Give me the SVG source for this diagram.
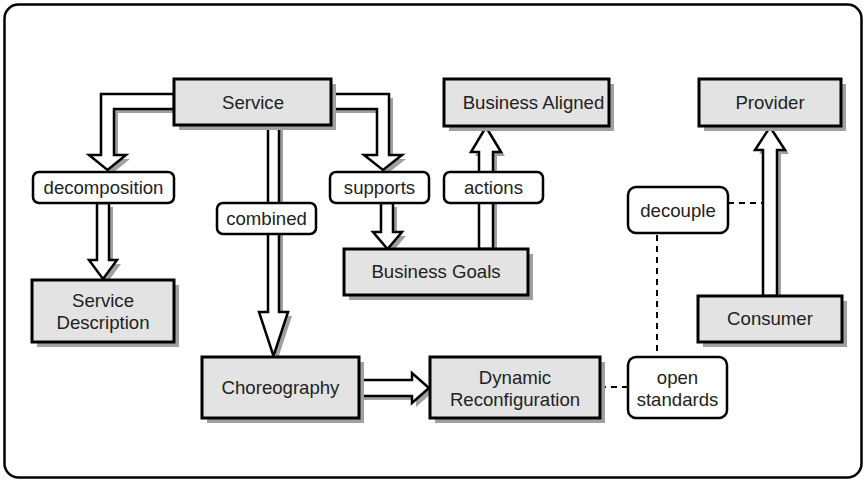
<svg xmlns="http://www.w3.org/2000/svg" width="866" height="480" viewBox="0 0 866 480">
  <style>
    .frame { fill: #ffffff; stroke: #000000; stroke-width: 2.5; }
    .box { fill: #e3e3e3; stroke: #000000; stroke-width: 3; }
    .shadow { fill: #a0a0a0; stroke: none; }
    .label { fill: #ffffff; stroke: #000000; stroke-width: 2.5; }
    .arrow { fill: #ffffff; stroke: #000000; stroke-width: 2.5; stroke-linejoin: miter; }
    .dash { fill: none; stroke: #000000; stroke-width: 2; stroke-dasharray: 6 5; }
    text { font-family: "Liberation Sans", Arial, sans-serif; font-size: 18.6px; fill: #222222; text-anchor: middle; }
  </style>
  <defs>
    <!-- hollow block arrows, reused for the drop shadow and the outline -->
    <path id="a-decomp" d="M174,94 L101,94 L101,155 L89,155 L107.5,170 L126,155 L114,155 L114,109 L174,109 Z"/>
    <path id="a-descr" d="M97,203 L97,260 L89,260 L103,279 L117,260 L109,260 L109,203 Z"/>
    <path id="a-combined" d="M268,125 L268,312 L259,312 L273.5,356 L288,312 L279,312 L279,125 Z"/>
    <path id="a-supports" d="M331,94 L389,94 L389,155 L402,155 L383,170 L364,155 L377,155 L377,109 L331,109 Z"/>
    <path id="a-goals" d="M381,203 L381,232 L373,232 L387.5,249 L402,232 L393,232 L393,203 Z"/>
    <path id="a-actions" d="M479,249 L479,152 L471,152 L486,127 L501,152 L493,152 L493,249 Z"/>
    <path id="a-choreo" d="M359,380 L412,380 L412,373 L429,388 L412,403 L412,396 L359,396 Z"/>
    <path id="a-consumer" d="M763,296 L763,150 L755,150 L770,127 L785,150 L777,150 L777,296 Z"/>
  </defs>

  <rect class="frame" x="4.5" y="4.5" width="857" height="473" rx="14"/>

  <g id="connectors">
    <g transform="translate(4,4)" class="shadow">
      <use href="#a-decomp"/>
      <use href="#a-descr"/>
      <use href="#a-combined"/>
      <use href="#a-supports"/>
      <use href="#a-goals"/>
      <use href="#a-actions"/>
      <use href="#a-choreo"/>
      <use href="#a-consumer"/>
    </g>
    <g class="arrow">
      <use href="#a-decomp"/>
      <use href="#a-descr"/>
      <use href="#a-combined"/>
      <use href="#a-supports"/>
      <use href="#a-goals"/>
      <use href="#a-actions"/>
      <use href="#a-choreo"/>
      <use href="#a-consumer"/>
    </g>
    <path class="dash" d="M600,387 L628,387"/>
    <path class="dash" d="M657,235 L657,357"/>
    <path class="dash" d="M728,203 L763,203"/>
  </g>

  <g id="service">
    <rect class="shadow" x="179" y="84" width="157" height="46"/>
    <rect class="box" x="174" y="79" width="157" height="46"/>
    <text x="253" y="109">Service</text>
  </g>
  <g id="business-aligned">
    <rect class="shadow" x="449" y="84" width="165" height="47"/>
    <rect class="box" x="444" y="79" width="165" height="47"/>
    <text x="533.5" y="109">Business Aligned</text>
  </g>
  <g id="provider">
    <rect class="shadow" x="704" y="84" width="142" height="47"/>
    <rect class="box" x="699" y="79" width="142" height="47"/>
    <text x="770" y="109">Provider</text>
  </g>
  <g id="decomposition">
    <rect class="label" x="33" y="172" width="141" height="31" rx="6"/>
    <text x="103.5" y="194">decomposition</text>
  </g>
  <g id="combined">
    <rect class="label" x="217" y="203" width="99" height="31" rx="6"/>
    <text x="266.5" y="225">combined</text>
  </g>
  <g id="supports">
    <rect class="label" x="330" y="172" width="99" height="31" rx="6"/>
    <text x="379.5" y="194">supports</text>
  </g>
  <g id="actions">
    <rect class="label" x="444" y="172" width="99" height="31" rx="6"/>
    <text x="493.5" y="194">actions</text>
  </g>
  <g id="decouple">
    <rect class="label" x="628" y="187" width="100" height="46" rx="8"/>
    <text x="678" y="217">decouple</text>
  </g>
  <g id="business-goals">
    <rect class="shadow" x="349" y="254" width="184" height="46"/>
    <rect class="box" x="344" y="249" width="184" height="46"/>
    <text x="436" y="278">Business Goals</text>
  </g>
  <g id="service-description">
    <rect class="shadow" x="37" y="285" width="142" height="62"/>
    <rect class="box" x="32" y="280" width="142" height="62"/>
    <text x="103" y="307">Service</text>
    <text x="103" y="329">Description</text>
  </g>
  <g id="consumer">
    <rect class="shadow" x="703" y="301" width="144" height="46"/>
    <rect class="box" x="698" y="296" width="144" height="46"/>
    <text x="770" y="325">Consumer</text>
  </g>
  <g id="choreography">
    <rect class="shadow" x="207" y="362" width="157" height="61"/>
    <rect class="box" x="202" y="357" width="157" height="61"/>
    <text x="280.5" y="394">Choreography</text>
  </g>
  <g id="dynamic-reconfiguration">
    <rect class="shadow" x="435" y="362" width="170" height="61"/>
    <rect class="box" x="430" y="357" width="170" height="61"/>
    <text x="515" y="384">Dynamic</text>
    <text x="515" y="406">Reconfiguration</text>
  </g>
  <g id="open-standards">
    <rect class="label" x="628" y="357" width="99" height="61" rx="8"/>
    <text x="677.5" y="384">open</text>
    <text x="677.5" y="406">standards</text>
  </g>
</svg>
